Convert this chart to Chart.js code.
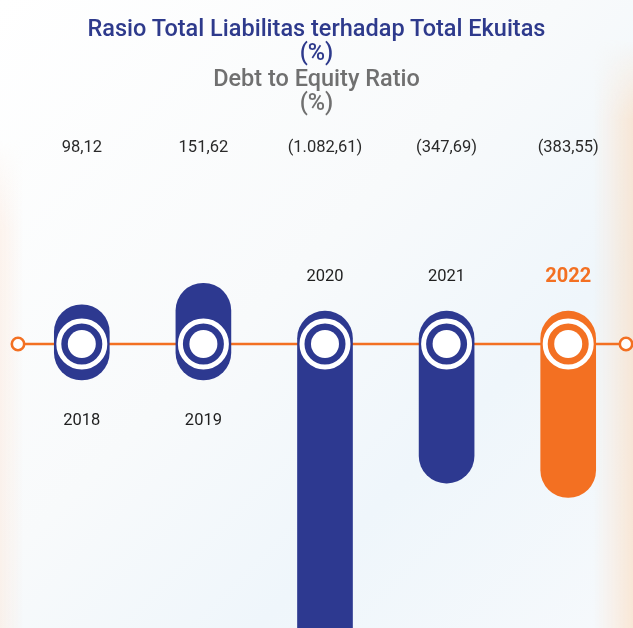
<!DOCTYPE html>
<html>
<head>
<meta charset="utf-8">
<script src="https://cdn.jsdelivr.net/npm/chart.js@4.4.0/dist/chart.umd.min.js"></script>
<style>
  html, body { margin: 0; padding: 0; }
  body {
    width: 633px; height: 628px; overflow: hidden; position: relative;
    background: linear-gradient(135deg, #ffffff 0%, #f8fafb 45%, #eff6fb 70%, #f6f9fc 100%);
  }
  .band-r { position: absolute; right: 0; top: 40px; width: 40px; height: 588px;
    background: linear-gradient(to left, rgba(252,214,178,0.5) 0px, rgba(252,226,204,0.2) 28px, rgba(255,255,255,0) 40px);
    -webkit-mask-image: linear-gradient(to bottom, transparent 0px, #000 80px);
    mask-image: linear-gradient(to bottom, transparent 0px, #000 80px); }
  .band-l { position: absolute; left: 0; top: 140px; width: 24px; height: 488px;
    background: linear-gradient(to right, rgba(253,228,212,0.4) 0px, rgba(255,255,255,0) 24px);
    -webkit-mask-image: linear-gradient(to bottom, transparent 0px, #000 90px);
    mask-image: linear-gradient(to bottom, transparent 0px, #000 90px); }
  #wrap { position: absolute; left: 0; top: 0; width: 633px; height: 628px; }
  canvas { position: absolute; left: 0; top: 0; }
  .title {
    position: absolute; left: 0; width: 633px; text-align: center;
    font-family: Roboto, "Noto Sans", sans-serif; font-size: 23.5px; line-height: 24px;
    white-space: nowrap;
  }
  .t1 { color: #2e3a8c; font-weight: 500; }
  .t2 { color: #707070; font-weight: 500; }
</style>
</head>
<body>
<div class="band-r"></div>
<div class="band-l"></div>
<div id="wrap">
  <canvas id="c" width="633" height="628"></canvas>
  <div class="title t1" style="top:16px">Rasio Total Liabilitas terhadap Total Ekuitas</div>
  <div class="title t1" style="top:40px">(%)</div>
  <div class="title t2" style="top:66px">Debt to Equity Ratio</div>
  <div class="title t2" style="top:90px">(%)</div>
</div>
<script>
// ---- data ----
const years = ["2018", "2019", "2020", "2021", "2022"];
const ratios = [98.12, 151.62, -1082.61, -347.69, -383.55];
const ratioLabels = ["98,12", "151,62", "(1.082,61)", "(347,69)", "(383,55)"];

// ---- styling ----
const NAVY = "#2d3990";
const ORANGE = "#f37022";
const barColors = ["navy", "navy", "navy", "navy", "orange"].map(c => c === "navy" ? NAVY : ORANGE);
const Y_MAX = 860, Y_MIN = -710;       // axis range
const CAP_UP = 90, CAP_DOWN = 82;      // how far each pill reaches past the baseline (data units)

const barData = ratios.map(v => v >= 0 ? [-CAP_UP, v] : [CAP_DOWN, v]);

const decor = {
  id: "decor",
  beforeDatasetsDraw(chart) {
    const ctx = chart.ctx;
    const y0 = chart.scales.y.getPixelForValue(0);
    ctx.save();
    ctx.strokeStyle = ORANGE;
    ctx.lineWidth = 2.6;
    ctx.beginPath();
    ctx.moveTo(18, y0);
    ctx.lineTo(626, y0);
    ctx.stroke();
    [18, 626].forEach(x => {
      ctx.beginPath();
      ctx.arc(x, y0, 6.2, 0, Math.PI * 2);
      ctx.fillStyle = "#ffffff";
      ctx.fill();
      ctx.lineWidth = 2.6;
      ctx.stroke();
    });
    ctx.restore();
  },
  afterDatasetsDraw(chart) {
    const ctx = chart.ctx;
    const meta = chart.getDatasetMeta(0);
    const y0 = chart.scales.y.getPixelForValue(0);
    ctx.save();
    meta.data.forEach((bar, i) => {
      const x = bar.x;
      // ring
      ctx.beginPath();
      ctx.arc(x, y0, 23, 0, Math.PI * 2);
      ctx.strokeStyle = "#ffffff";
      ctx.lineWidth = 5;
      ctx.stroke();
      ctx.beginPath();
      ctx.arc(x, y0, 14, 0, Math.PI * 2);
      ctx.fillStyle = "#ffffff";
      ctx.fill();

      // value label
      ctx.textAlign = "center";
      ctx.textBaseline = "middle";
      ctx.fillStyle = "#2a2a2a";
      ctx.font = "16.5px Roboto, 'Noto Sans', sans-serif";
      ctx.fillText(ratioLabels[i], x, 148);

      // year label
      const positive = ratios[i] >= 0;
      const yy = positive ? y0 + 77 : y0 - 67;
      if (i === years.length - 1) {
        ctx.fillStyle = ORANGE;
        ctx.font = "bold 20px Roboto, 'Noto Sans', sans-serif";
      } else {
        ctx.fillStyle = "#1f1f1f";
        ctx.font = "16.5px Roboto, 'Noto Sans', sans-serif";
      }
      ctx.fillText(years[i], x, yy);
    });
    ctx.restore();
  }
};

new Chart(document.getElementById("c"), {
  type: "bar",
  data: {
    labels: years,
    datasets: [{
      data: barData,
      backgroundColor: barColors,
      borderWidth: 0,
      borderRadius: 28,
      borderSkipped: false,
      barThickness: 55
    }]
  },
  options: {
    responsive: false,
    devicePixelRatio: 1,
    animation: false,
    layout: { padding: { left: 21, right: 4, top: 0, bottom: 0 } },
    plugins: { legend: { display: false }, tooltip: { enabled: false }, title: { display: false } },
    scales: {
      x: { display: false, offset: true, grid: { display: false } },
      y: { display: false, min: Y_MIN, max: Y_MAX, grid: { display: false } }
    }
  },
  plugins: [decor]
});
</script>
</body>
</html>
